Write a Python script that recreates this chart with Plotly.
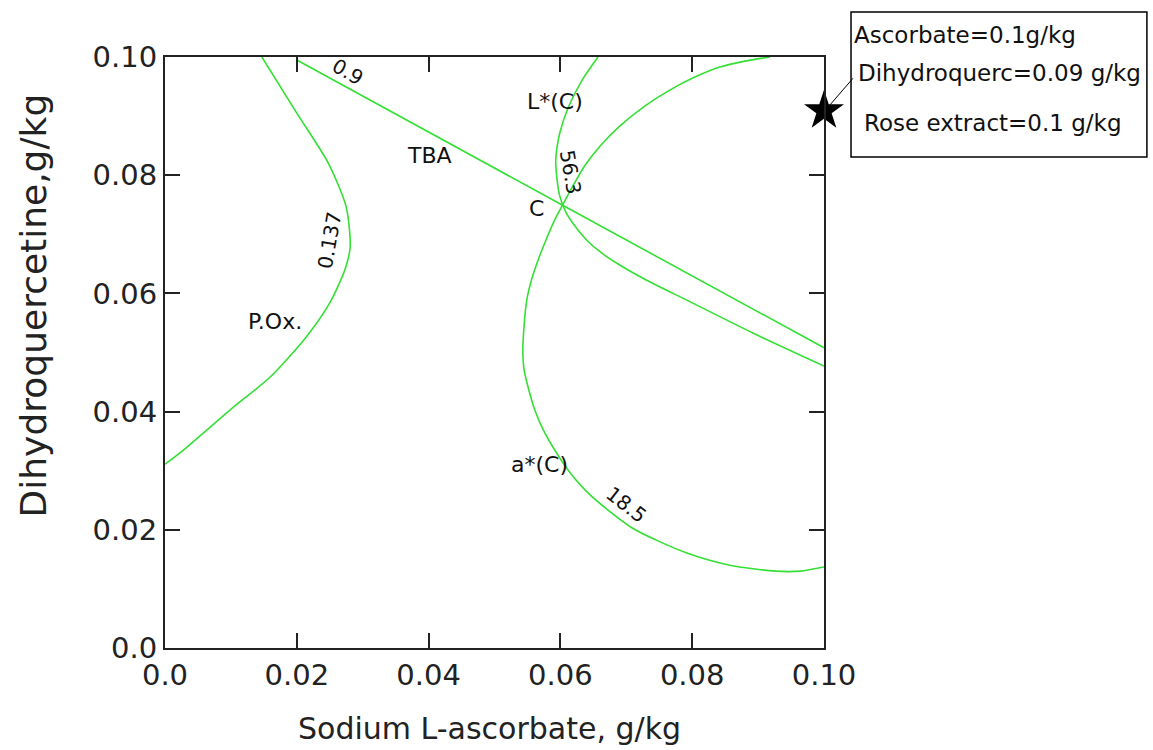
import plotly.graph_objects as go

# ---- data ----
tick_vals = [0.0, 0.02, 0.04, 0.06, 0.08, 0.10]
tick_text = ["0.0", "0.02", "0.04", "0.06", "0.08", "0.10"]

pox_x = [0.0147, 0.0200, 0.0248, 0.0275, 0.0281, 0.0273, 0.0250, 0.0214, 0.0160, 0.0099, 0.0028, 0.0]
pox_y = [0.1000, 0.0905, 0.0820, 0.0746, 0.0679, 0.0640, 0.0584, 0.0526, 0.0459, 0.0403, 0.0335, 0.0311]

tba_x = [0.0200, 0.0602, 0.1000]
tba_y = [0.0995, 0.0750, 0.0508]

lstar_x = [0.0657, 0.0633, 0.0612, 0.0599, 0.0593, 0.0595, 0.0599, 0.0608, 0.0622, 0.0640, 0.0663,
           0.0690, 0.0728, 0.0791, 0.0892, 0.1000]
lstar_y = [0.1000, 0.0961, 0.0915, 0.0871, 0.0826, 0.0792, 0.0765, 0.0738, 0.0714, 0.0690, 0.0668,
           0.0648, 0.0624, 0.0589, 0.0533, 0.0477]

astar_x = [0.0918, 0.0880, 0.0842, 0.0804, 0.0766, 0.0728, 0.0690, 0.0660, 0.0637, 0.0619, 0.0604,
           0.0590, 0.0578, 0.0568, 0.0557, 0.0549, 0.0545, 0.0543, 0.0545, 0.0552, 0.0561, 0.0574,
           0.0593, 0.0615, 0.0645, 0.0709, 0.0791, 0.0857, 0.0926, 0.0964, 0.1000]
astar_y = [0.1000, 0.0993, 0.0983, 0.0966, 0.0944, 0.0917, 0.0883, 0.0849, 0.0816, 0.0782, 0.0751,
           0.0721, 0.0690, 0.0662, 0.0626, 0.0589, 0.0547, 0.0504, 0.0470, 0.0437, 0.0403, 0.0369,
           0.0332, 0.0296, 0.0259, 0.0203, 0.0161, 0.0140, 0.0130, 0.0130, 0.0137]

star_x = [0.10]
star_y = [0.0909]

labels = ["A", "B", "C", "TBA", "L*(C)", "a*(C)", "P.Ox."]
labels_x = [0.0942, 0.1039, 0.0564, 0.0402, 0.0592, 0.0569, 0.0167]
labels_y = [0.1032, 0.0519, 0.0744, 0.0834, 0.0924, 0.0310, 0.0553]

contour_labels = ["0.9", "56.3", "0.137", "18.5"]
contour_x = [0.0278, 0.0615, 0.0250, 0.0701]
contour_y = [0.0975, 0.0805, 0.0690, 0.0242]
contour_angle = [30, 80, -80, 38]

box_lines = ["Ascorbate=0.1g/kg", "Dihydroquerc=0.09 g/kg", "Rose extract=0.1 g/kg"]

x_title = "Sodium L-ascorbate, g/kg"
y_title = "Dihydroquercetine,g/kg"

GREEN = "#33e033"
FONT = "DejaVu Sans"
TXT = "#111"

fig = go.Figure()
for xs, ys in [(pox_x, pox_y), (tba_x, tba_y), (lstar_x, lstar_y), (astar_x, astar_y)]:
    fig.add_trace(go.Scatter(x=xs, y=ys, mode="lines",
                             line=dict(color=GREEN, width=1.6, shape="spline", smoothing=0.7),
                             hoverinfo="skip", showlegend=False))

fig.add_trace(go.Scatter(x=star_x, y=star_y, mode="markers", marker=dict(symbol="star", size=30, color="black"),
                         cliponaxis=False, showlegend=False, hoverinfo="skip"))

for t, x, y in zip(labels, labels_x, labels_y):
    fig.add_annotation(x=x, y=y, text=t, showarrow=False, font=dict(family=FONT, size=22, color=TXT))

for t, x, y, a in zip(contour_labels, contour_x, contour_y, contour_angle):
    fig.add_annotation(x=x, y=y, text=t, showarrow=False, textangle=a, font=dict(family=FONT, size=20, color=TXT))

# info box and connector
fig.add_shape(type="rect", xref="paper", yref="paper", x0=1.041, x1=1.490, y0=0.831, y1=1.076,
              line=dict(color="black", width=1.5))
fig.add_shape(type="line", xref="paper", yref="paper", x0=1.006, y0=0.915, x1=1.044, y1=0.964,
              line=dict(color="black", width=1))
box_x = [1.042, 1.049, 1.058]
box_y = [1.062, 0.998, 0.913]
for t, x, y in zip(box_lines, box_x, box_y):
    fig.add_annotation(xref="paper", yref="paper", x=x, y=y, xanchor="left", text=t, showarrow=False,
                       font=dict(family=FONT, size=23, color=TXT))

# axis titles placed as annotations
fig.add_annotation(xref="paper", yref="paper", x=0.492, y=-0.136, yanchor="middle", text=x_title,
                   showarrow=False, font=dict(family=FONT, size=30, color="#222"))
fig.add_annotation(xref="paper", yref="paper", x=-0.200, y=0.580, xanchor="center", yanchor="middle",
                   text=y_title, textangle=-90, showarrow=False, font=dict(family=FONT, size=36, color="#222"))

axis_common = dict(range=[0, 0.1], tickvals=tick_vals, ticktext=tick_text, showgrid=False, zeroline=False,
                   showline=True, mirror="ticks", linecolor="#222", linewidth=2, ticks="inside", ticklen=15,
                   tickcolor="#222", tickwidth=2, tickfont=dict(family=FONT, size=29, color="#222"))

fig.update_xaxes(**axis_common)
fig.update_yaxes(**axis_common)

fig.update_layout(width=1153, height=750, margin=dict(l=165, r=329, t=57, b=102),
                  plot_bgcolor="white", paper_bgcolor="white")

fig.write_html("out.html")
